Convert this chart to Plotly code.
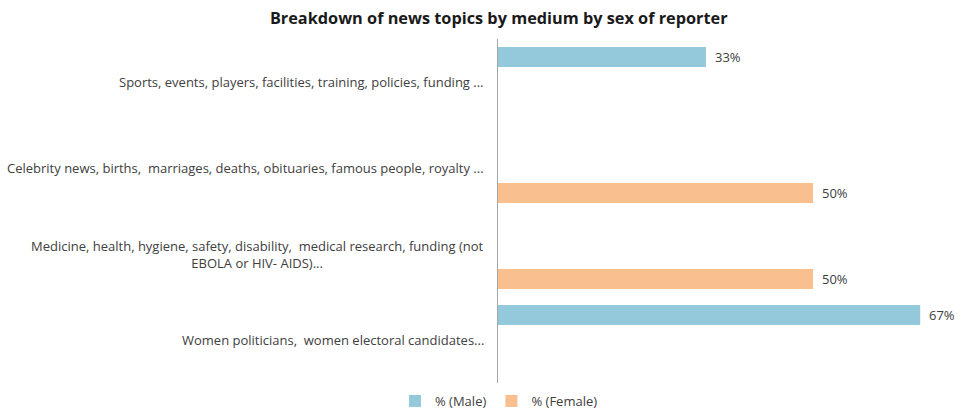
import plotly.graph_objects as go

# Topic categories (top to bottom) and share of stories by reporter sex
topics = [
    "Sports, events, players, facilities, training, policies, funding ...",
    "Celebrity news, births,  marriages, deaths, obituaries, famous people, royalty ...",
    "Medicine, health, hygiene, safety, disability,  medical research, funding (not<br>EBOLA or HIV- AIDS)...",
    "Women politicians,  women electoral candidates...",
]
male_pct = [33, None, None, 67]
female_pct = [None, 50, 50, None]

series_names = ["% (Male)", "% (Female)"]
series_colors = ["#93C9DB", "#F9BF8F"]

TEXT = "#404040"
FONT = "'Open Sans', sans-serif"

BAR_W = 0.233      # bar thickness in category units
HALF_SEP = 0.291   # distance of each bar centre from the category centre

fig = go.Figure()
for name, vals, color, sign in [
    (series_names[0], male_pct, series_colors[0], -1),
    (series_names[1], female_pct, series_colors[1], 1),
]:
    fig.add_trace(go.Bar(
        name=name,
        y=topics,
        x=vals,
        orientation="h",
        marker=dict(color=color, line=dict(width=0)),
        width=BAR_W,
        offset=sign * HALF_SEP - BAR_W / 2,
        hoverinfo="skip",
    ))

annotations = []
# value labels to the right of each bar
for vals, sign in [(male_pct, -1), (female_pct, 1)]:
    for i, v in enumerate(vals):
        if v is None:
            continue
        annotations.append(dict(
            x=v, y=i + sign * HALF_SEP, xref="x", yref="y",
            text=f"{v}%", showarrow=False, xanchor="left", xshift=7,
            font=dict(family=FONT, size=13, color=TEXT),
        ))
# category labels, centred text block ending left of the axis
for i, t in enumerate(topics):
    annotations.append(dict(
        x=0, y=i, xref="x", yref="y", text=t, showarrow=False,
        xanchor="right", xshift=-12, align="center",
        font=dict(family=FONT, size=13, color=TEXT),
    ))

fig.update_layout(
    width=961, height=409,
    margin=dict(l=498, r=20, t=39, b=26, autoexpand=False),
    paper_bgcolor="white", plot_bgcolor="white",
    barmode="overlay",
    showlegend=True,
    title=dict(
        text="<b>Breakdown of news topics by medium by sex of reporter</b>",
        x=0.519, xanchor="center", y=0.956, yanchor="middle",
        font=dict(family=FONT, size=16.3, color="#1a1a1a"),
    ),
    legend=dict(
        orientation="h", xref="container", yref="container",
        x=0.411, xanchor="left", y=0.0196, yanchor="middle",
        font=dict(family=FONT, size=13, color=TEXT),
        itemwidth=30, traceorder="normal",
    ),
    annotations=annotations,
    xaxis=dict(range=[0, 70.3], showgrid=False, zeroline=False,
               showticklabels=False, showline=False, fixedrange=True),
    yaxis=dict(autorange="reversed", showgrid=False, zeroline=False,
               showticklabels=False, showline=True, linecolor="#A6A6A6",
               linewidth=1, ticks="", fixedrange=True),
)

fig.write_html("out.html")
